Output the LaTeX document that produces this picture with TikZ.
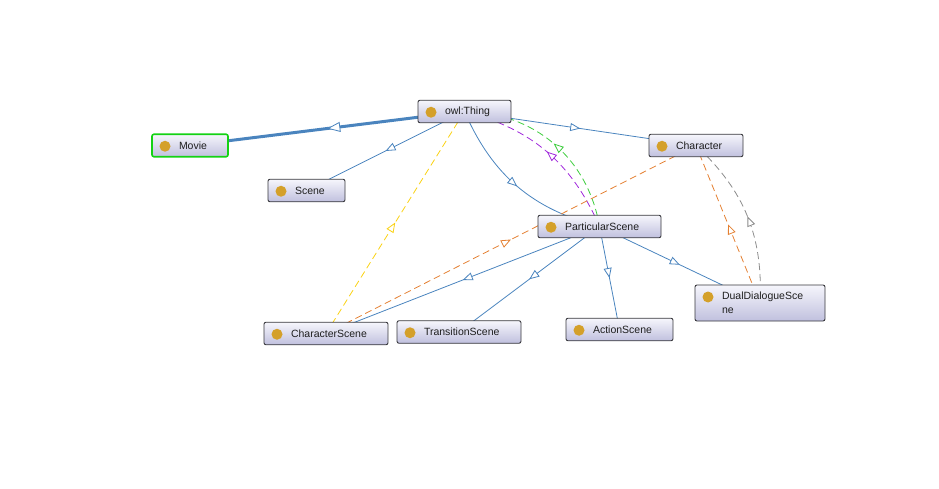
\documentclass[tikz,border=0pt]{standalone}
\usepackage{fontspec}
\setmainfont{Liberation Sans}
\usepackage{tikz}
\usetikzlibrary{arrows.meta,decorations.markings,backgrounds}
\usepackage{xcolor}
\definecolor{edgeblue}{RGB}{74,132,190}
\definecolor{boxborder}{RGB}{55,55,60}
\definecolor{boxtop}{RGB}{246,246,252}
\definecolor{boxbottom}{RGB}{192,192,222}
\definecolor{dotgold}{RGB}{212,160,42}
\definecolor{moviegreen}{RGB}{20,210,20}
\definecolor{eqgreen}{RGB}{60,205,60}
\definecolor{disjpurple}{RGB}{160,40,220}
\definecolor{domyellow}{RGB}{250,210,20}
\definecolor{rangeorange}{RGB}{228,128,50}
\definecolor{invgray}{RGB}{140,140,140}

\tikzset{
  owlclass/.style={draw=boxborder, line width=0.9pt, rounded corners=2pt,
    top color=boxtop, bottom color=boxbottom, minimum height=22.5pt,
    inner xsep=0pt, text width=#1, text=black!88,
    font=\fontsize{10.5}{14}\selectfont,
    execute at begin node={\leftskip=27pt},
    path picture={\fill[dotgold] ([xshift=13pt,yshift=-12pt]path picture bounding box.north west) circle (5.5pt);}},
  midtip/.style={postaction={decorate, decoration={markings,
    mark=at position 0.5 with {\arrow{Triangle[#1, fill=white, line width=0.8pt]}}}}},
  midtip/.default={length=10pt, width=8pt},
  subclass/.style={edgeblue, line width=0.8pt, midtip},
  relation/.style={line width=0.8pt, dash pattern=on 7pt off 4pt, midtip}
}

\begin{document}
\begin{tikzpicture}[x=1pt, y=-1pt]
\useasboundingbox (0,0) rectangle (939,489);

% classes
\node[owlclass=93pt] (thing) at (464.5,111.5) {owl:Thing};
\node[owlclass=76pt, draw=moviegreen, line width=1.6pt] (movie) at (190,145.5) {Movie};
\node[owlclass=77pt] (scene) at (306.5,190.5) {Scene};
\node[owlclass=94pt] (character) at (696,145.5) {Character};
\node[owlclass=123pt] (partscene) at (599.5,226.5) {ParticularScene};
\node[owlclass=124pt] (charscene) at (326,333.5) {CharacterScene};
\node[owlclass=124pt] (transscene) at (459,332) {TransitionScene};
\node[owlclass=107pt] (actscene) at (619.5,329.5) {ActionScene};
\node[owlclass=130pt, minimum height=36pt] (dualscene) at (760,303) {DualDialogueSce\\ne};

\begin{scope}[on background layer]
% subclass edges (centre to centre, the boxes hide the ends)
\draw[edgeblue, line width=3pt, midtip={length=13pt, width=10pt}] (thing.center) -- (movie.center);
\draw[subclass] (thing.center) -- (scene.center);
\draw[subclass] (thing.center) to[bend right=26] (partscene.center);
\draw[subclass] (thing.center) -- (character.center);
\draw[subclass] (partscene.center) -- (charscene.center);
\draw[subclass] (partscene.center) -- (transscene.center);
\draw[subclass] (partscene.center) -- (actscene.center);
\draw[subclass] (partscene.center) -- (dualscene.center);

% property edges
\draw[relation, eqgreen] (partscene.center) to[bend right=40] (thing.center);
\draw[relation, disjpurple] (partscene.center) to[bend right=26] (thing.center);
\draw[relation, domyellow] (charscene.center) -- (thing.center);
\draw[relation, rangeorange] (charscene.center) -- (character.center);
\draw[relation, rangeorange] (dualscene.center) -- (character.center);
\draw[relation, invgray] (dualscene.center) to[bend right=25] (character.center);
\end{scope}
\end{tikzpicture}
\end{document}
